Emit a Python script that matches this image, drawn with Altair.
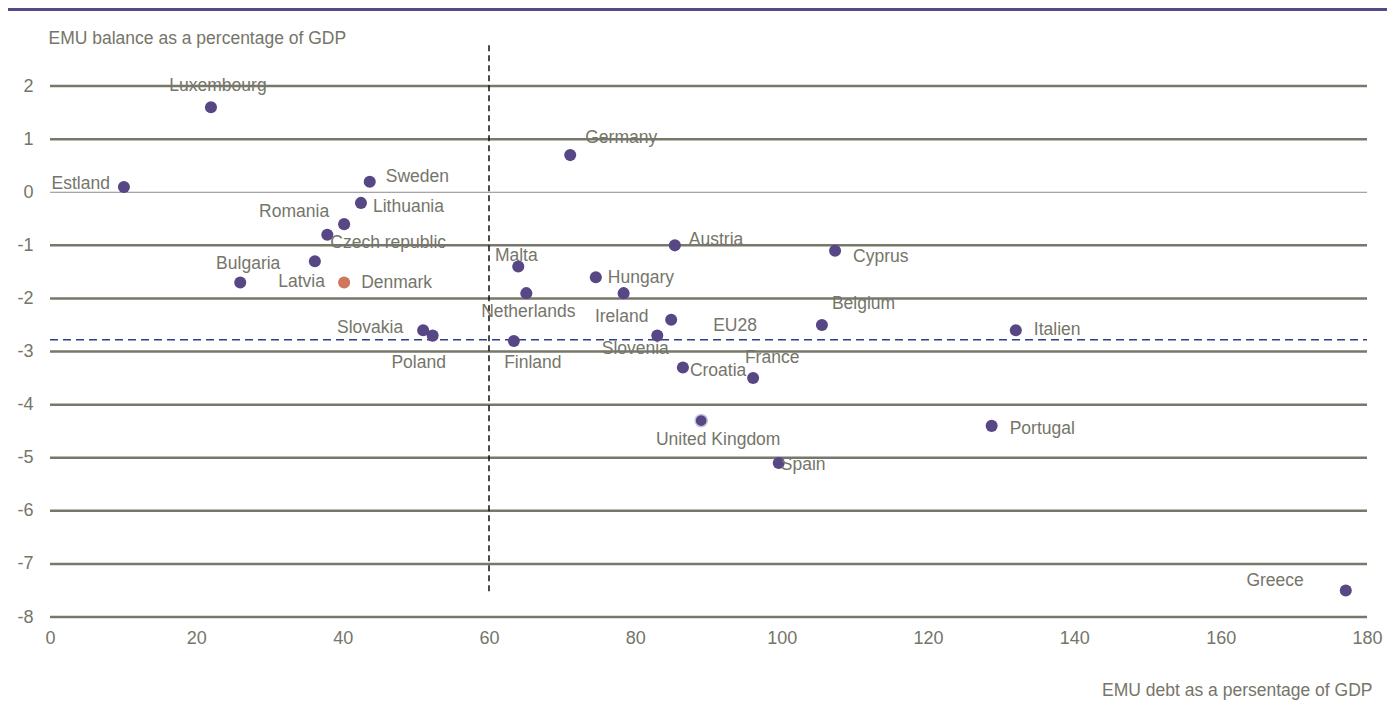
import altair as alt
import pandas as pd

countries = ["Estland", "Luxembourg", "Bulgaria", "Latvia", "Czech republic", "Romania",
             "Denmark", "Lithuania", "Sweden", "Slovakia", "Poland", "Finland", "Malta",
             "Netherlands", "Germany", "Hungary", "Ireland", "Slovenia", "EU28", "Austria",
             "Croatia", "United Kingdom", "France", "Spain", "Belgium", "Cyprus", "Portugal",
             "Italien", "Greece"]
debt = [10.1, 22.0, 26.0, 36.2, 37.9, 40.2, 40.2, 42.5, 43.7, 51.0, 52.3, 63.4, 64.0,
        65.1, 71.1, 74.6, 78.4, 83.0, 84.9, 85.4, 86.5, 89.0, 96.1, 99.6, 105.5, 107.3,
        128.7, 132.0, 177.1]
balance = [0.1, 1.6, -1.7, -1.3, -0.8, -0.6, -1.7, -0.2, 0.2, -2.6, -2.7, -2.8, -1.4,
           -1.9, 0.7, -1.6, -1.9, -2.7, -2.4, -1.0, -3.3, -4.3, -3.5, -5.1, -2.5, -1.1,
           -4.4, -2.6, -7.5]

x_ticks = [0, 20, 40, 60, 80, 100, 120, 140, 160, 180]
y_ticks = [-8, -7, -6, -5, -4, -3, -2, -1, 0, 1, 2]
grid_values = [-8, -7, -6, -5, -4, -3, -2, -1, 1, 2]
zero_value = [0]
debt_limit = 60
debt_limit_span = [2.77, -7.53]
avg_balance = -2.78

# label placement (annotation layout): align, dx px, dy px
LABEL_LAYOUT = {
    "Luxembourg": ("center", 7, -21), "Estland": ("right", -14, -3),
    "Sweden": ("left", 16, -5), "Lithuania": ("left", 12, 4),
    "Romania": ("right", -15, -12), "Czech republic": ("left", 3, 8),
    "Bulgaria": ("center", 8, -19), "Latvia": ("right", 10, 21),
    "Denmark": ("left", 17, 0), "Slovakia": ("right", -20, -2),
    "Poland": ("center", -14, 27), "Malta": ("center", -2, -11),
    "Netherlands": ("center", 2, 19), "Hungary": ("left", 12, 1),
    "Ireland": ("center", -2, 24), "Austria": ("left", 14, -5),
    "EU28": ("left", 42, 6), "Slovenia": ("center", -22, 13),
    "Croatia": ("left", 7, 4), "France": ("center", 19, -20),
    "Cyprus": ("left", 18, 6), "Belgium": ("left", 10, -21),
    "Italien": ("left", 18, 0), "United Kingdom": ("center", 17, 19),
    "Spain": ("left", 2, 2), "Portugal": ("left", 18, 3),
    "Greece": ("right", -42, -9), "Germany": ("left", 15, -17),
    "Finland": ("center", 19, 22),
}

W, H = 1317, 584
XMIN, XMAX = 0, 180
YMIN, YMAX = -8, 3

df = pd.DataFrame({"country": countries, "debt": debt, "balance": balance})
df["align"] = df["country"].map(lambda c: LABEL_LAYOUT[c][0])
df["dx"] = df["country"].map(lambda c: LABEL_LAYOUT[c][1])
df["dy"] = df["country"].map(lambda c: LABEL_LAYOUT[c][2])

FONT = "Liberation Sans"
FS = 17.5
TXT = "#75756a"
GRID = "#77776a"
PURPLE = "#574785"

xs = alt.Scale(domain=[XMIN, XMAX], nice=False)
ys = alt.Scale(domain=[YMIN, YMAX], nice=False)

x_axis = alt.Axis(values=x_ticks, grid=False, domain=False, ticks=False,
                  labelFont=FONT, labelFontSize=18, labelColor=TXT, labelPadding=12,
                  labelFlush=False, labelExpr="toString(datum.value)",
                  title="EMU debt as a persentage of GDP", titleFont=FONT,
                  titleFontSize=FS, titleFontWeight="normal", titleColor=TXT,
                  titleAlign="right", titleBaseline="middle", titleX=1322, titleY=73)
y_axis = alt.Axis(values=y_ticks, grid=False, domain=False, ticks=False,
                  labelFont=FONT, labelFontSize=18, labelColor=TXT, labelPadding=17,
                  labelFlush=False, labelExpr="toString(datum.value)",
                  title="EMU balance as a percentage of GDP", titleFont=FONT,
                  titleFontSize=FS, titleFontWeight="normal", titleColor=TXT,
                  titleAngle=0, titleAlign="left", titleBaseline="middle",
                  titleX=-2, titleY=5)

base = alt.Chart(df)

grid = alt.Chart(pd.DataFrame({"v": grid_values})).mark_rule(
    color=GRID, strokeWidth=2.5).encode(
    y=alt.Y("v:Q", scale=ys, axis=y_axis),
    x=alt.value(0), x2=alt.value(W))

zero = alt.Chart(pd.DataFrame({"v": zero_value})).mark_rule(
    color="#8c8c8c", strokeWidth=1).encode(
    y=alt.Y("v:Q", scale=ys), x=alt.value(0), x2=alt.value(W))

hline = alt.Chart(pd.DataFrame({"v": [avg_balance], "x0": [XMIN], "x1": [XMAX]})).mark_rule(
    color="#2f3f8a", strokeWidth=1.5, strokeDash=[8, 5]).encode(
    y=alt.Y("v:Q", scale=ys),
    x=alt.X("x0:Q", scale=xs, axis=x_axis), x2="x1:Q")

vline = alt.Chart(pd.DataFrame({"x": [debt_limit], "y0": [debt_limit_span[0]],
                                "y1": [debt_limit_span[1]]})).mark_rule(
    color="#111111", strokeWidth=1.5, strokeDash=[6, 4]).encode(
    x=alt.X("x:Q", scale=xs), y=alt.Y("y0:Q", scale=ys), y2="y1:Q")

top_line = alt.Chart(pd.DataFrame({"a": [0]})).mark_rule(
    color="#574785", strokeWidth=3).encode(
    x=alt.value(-42), x2=alt.value(W + 20), y=alt.value(-23.5))

pts_normal = base.transform_filter(
    "datum.country !== 'Denmark' && datum.country !== 'United Kingdom'").mark_circle(
    size=145, opacity=1, color=PURPLE).encode(
    x=alt.X("debt:Q", scale=xs), y=alt.Y("balance:Q", scale=ys))

pts_dk = base.transform_filter("datum.country === 'Denmark'").mark_circle(
    size=145, opacity=1, color="#d0765e").encode(
    x=alt.X("debt:Q", scale=xs), y=alt.Y("balance:Q", scale=ys))

pts_uk = base.transform_filter("datum.country === 'United Kingdom'").mark_point(
    shape="circle", filled=True, size=150, opacity=1, fill=PURPLE,
    stroke="#c3c8dc", strokeWidth=1.5).encode(
    x=alt.X("debt:Q", scale=xs), y=alt.Y("balance:Q", scale=ys))

xpp = (XMAX - XMIN) / W
ypp = (YMAX - YMIN) / H
labels = []
for al in ["left", "right", "center"]:
    labels.append(base.transform_filter(f"datum.align === '{al}'").transform_calculate(
        lx=f"datum.debt + datum.dx * {xpp}",
        ly=f"datum.balance - datum.dy * {ypp}").mark_text(
        align=al, baseline="middle", font=FONT, fontSize=FS, color=TXT).encode(
        x=alt.X("lx:Q", scale=xs), y=alt.Y("ly:Q", scale=ys),
        text="country:N"))

chart = alt.layer(grid, zero, hline, vline, top_line, pts_normal, pts_dk, pts_uk,
                  *labels).properties(
    width=W, height=H,
    autosize=alt.AutoSizeParams(type="none"),
    padding={"left": 42, "top": 25, "right": 20, "bottom": 100},
).configure(background="white").configure_view(stroke=None)

chart.save("out.html", embed_options={"renderer": "svg", "actions": False})
